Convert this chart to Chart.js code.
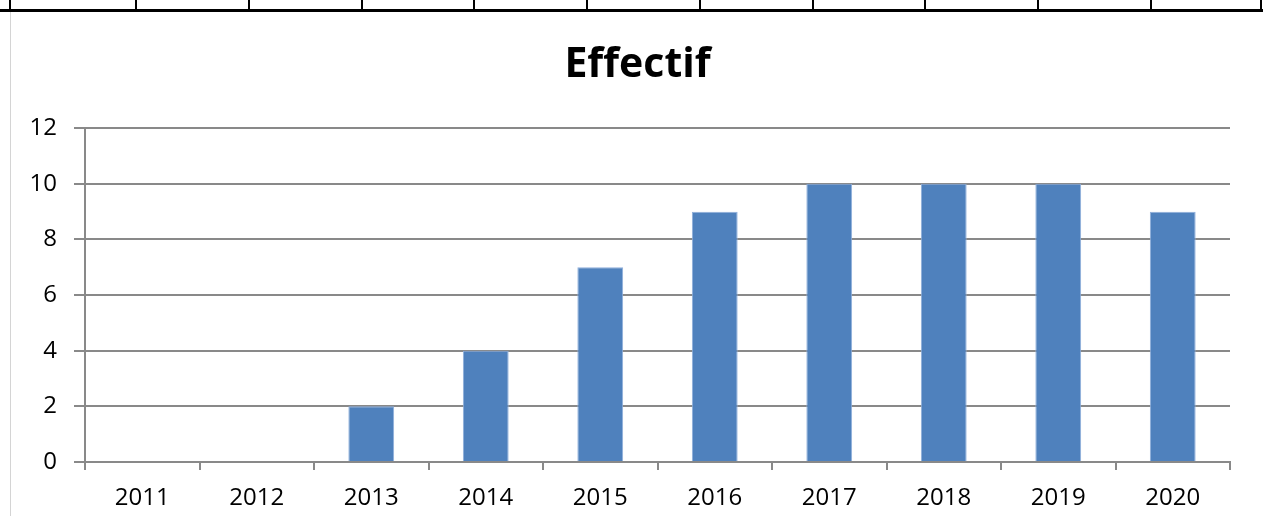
<!DOCTYPE html>
<html>
<head>
<meta charset="utf-8">
<script src="https://cdn.jsdelivr.net/npm/chart.js@4"></script>
<style>
  html, body { margin: 0; padding: 0; background: #fff; }
  #wrap { position: relative; width: 1263px; height: 516px; overflow: hidden; }
  #strip { position: absolute; left: 0; top: 0; width: 1263px; height: 9px; border-bottom: 3px solid #000; }
  .cell { position: absolute; top: 0; height: 12px; border-left: 2px solid #000; }
  #frame { position: absolute; left: 10px; top: 12px; width: 1px; height: 504px; background: #d4d4d4; }
  canvas { position: absolute; left: 0; top: 0; }
</style>
</head>
<body>
<div id="wrap">
  <canvas id="myChart" width="1263" height="516"></canvas>
  <div id="strip"></div>
  <div id="frame"></div>
</div>
<script>
// données du graphique
const annees = ['2011', '2012', '2013', '2014', '2015', '2016', '2017', '2018', '2019', '2020'];
const effectif = [0, 0, 2, 4, 7, 9, 10, 10, 10, 9];
const ticksY = [0, 2, 4, 6, 8, 10, 12];

// bandeau du tableau au-dessus (coupé)
const strip = document.getElementById('strip');
[10, 136, 249, 362, 474, 587, 700, 813, 925, 1038, 1151, 1261].forEach(function(x) {
  const c = document.createElement('div');
  c.className = 'cell';
  c.style.left = (x - 1) + 'px';
  strip.appendChild(c);
});

const gris = '#898989';
const police = "'Open Sans', 'Noto Sans', sans-serif";

// recentre le titre sur toute la largeur du cadre
const titreCentre = {
  id: 'titreCentre',
  afterLayout: function(chart) {
    if (chart.titleBlock) {
      chart.titleBlock.left = 12;
      chart.titleBlock.right = 1263;
      chart.titleBlock.width = 1251;
    }
  }
};

const ctx = document.getElementById('myChart').getContext('2d');
const myChart = new Chart(ctx, {
  type: 'bar',
  data: {
    labels: annees,
    datasets: [{
      label: 'Effectif',
      data: effectif,
      backgroundColor: '#4f81bd',
      borderColor: '#8eaedb',
      borderWidth: 1,
      barPercentage: 0.4,
      categoryPercentage: 1.0
    }]
  },
  plugins: [titreCentre],
  options: {
    responsive: false,
    animation: false,
    layout: { padding: { left: 0, right: 33, top: 0, bottom: 0 } },
    plugins: {
      legend: { display: false },
      tooltip: { enabled: false },
      title: {
        display: true,
        text: 'Effectif',
        color: '#000',
        font: { family: police, size: 41, weight: 'bold', lineHeight: 1.2 },
        padding: { top: 41, bottom: 38 }
      }
    },
    scales: {
      x: {
        grid: {
          offset: true,
          drawOnChartArea: false,
          drawTicks: true,
          tickLength: 8,
          color: gris,
          lineWidth: 2
        },
        border: { display: true, color: gris, width: 2 },
        ticks: {
          color: '#000',
          padding: 14,
          font: { family: police, size: 24 },
          maxRotation: 0
        },
        afterFit: function(axis) { axis.height = 54; }
      },
      y: {
        min: 0,
        max: 12,
        afterBuildTicks: function(axis) {
          axis.ticks = ticksY.map(function(v) { return { value: v }; });
        },
        grid: {
          drawOnChartArea: true,
          drawTicks: true,
          tickLength: 11,
          color: gris,
          lineWidth: 2
        },
        border: { display: true, color: gris, width: 2 },
        ticks: {
          color: '#000',
          padding: 17,
          font: { family: police, size: 24 }
        },
        afterFit: function(axis) { axis.width = 85; }
      }
    }
  }
});
</script>
</body>
</html>
